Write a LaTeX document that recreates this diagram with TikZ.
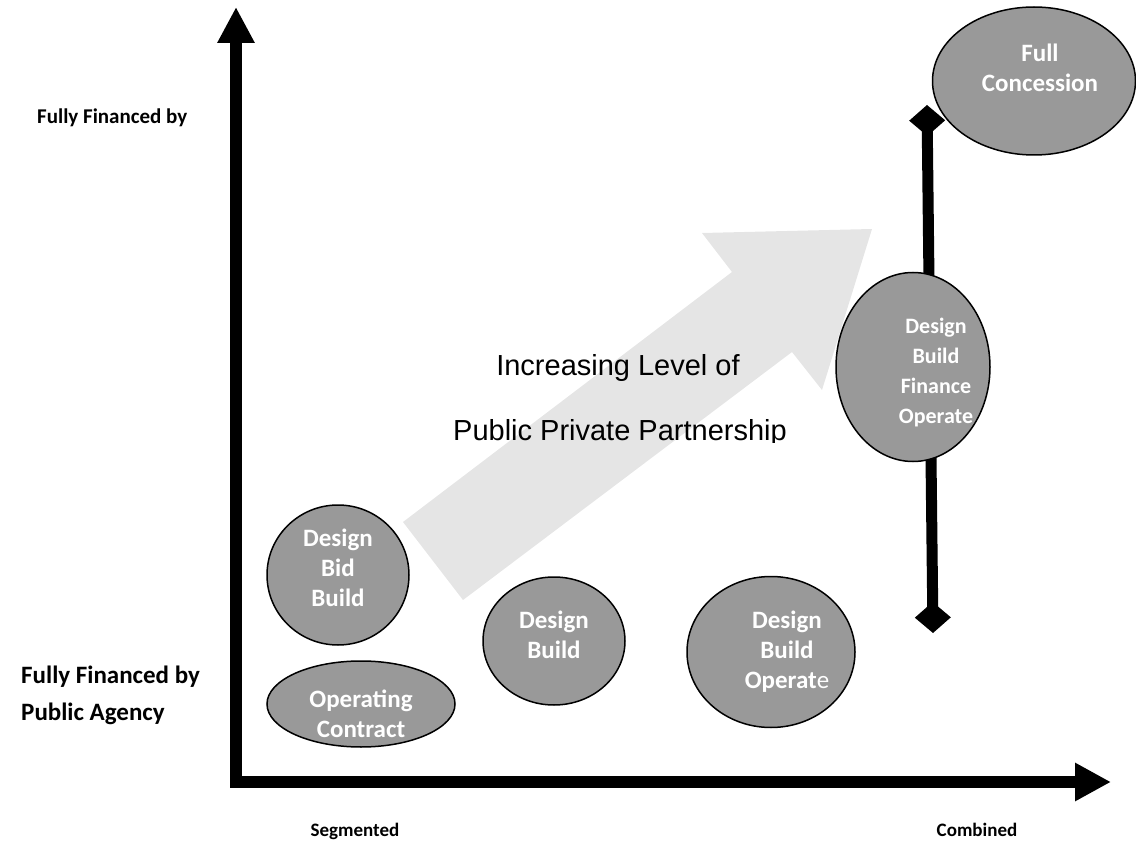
\documentclass[tikz,border=0pt]{standalone}
\usepackage{fontspec}
\setmainfont{Carlito}
\newfontfamily\arialfont{Liberation Sans}
\usetikzlibrary{arrows.meta,shapes.geometric}
\definecolor{blobgray}{HTML}{999999}
\definecolor{arrowgray}{HTML}{E5E5E5}
\begin{document}
\begin{tikzpicture}[x=1pt,y=-1pt,
  blob/.style={ellipse, draw=black, line width=1.5pt, fill=blobgray, inner sep=0pt},
  blobtext/.style={text=white, font=\bfseries\fontsize{25}{30}\selectfont, align=center, inner sep=0pt},
  axislabel/.style={font=\bfseries\fontsize{21}{37}\selectfont, inner sep=0pt},
  biglabel/.style={font=\bfseries\fontsize{25}{37}\selectfont, inner sep=0pt},
  footlabel/.style={font=\bfseries\fontsize{19}{23}\selectfont, inner sep=0pt},
  bigtext/.style={font=\arialfont\fontsize{29}{35}\selectfont, inner sep=0pt},
  axisline/.style={line width=12pt, line join=miter},
  stemline/.style={line width=11pt}]
\useasboundingbox (0,0) rectangle (1136,842);

% big light arrow
\fill[arrowgray] (403,522) -- (463,600) -- (792,352) -- (822,390) -- (872,229) -- (702,233) -- (732,272) -- cycle;

% text on arrow
\node[bigtext, anchor=base] (t1) at (618,376) {Increasing Level of};
\begin{scope}
\clip (380,400) rectangle (860,442);
\node[bigtext, anchor=base] (t2) at (620,441) {Public Private Partnership};
\end{scope}

% axes
\coordinate (ytip) at (236,7);
\coordinate (corner) at (236,782);
\coordinate (xtip) at (1111,782);
\draw[axisline, {Triangle[length=36pt,width=35pt]}-{Triangle[length=36pt,width=36pt]}] (ytip) -- (corner) -- (xtip);

% vertical stem with diamonds
\coordinate (dtop) at (927,105);
\coordinate (dbot) at (933,633);
\draw[stemline, {Diamond[length=31pt,width=36pt]}-{Diamond[length=31pt,width=36pt]}] (dtop) -- (dbot);

% ellipses
\node[blob, minimum width=203pt, minimum height=148pt] (fc) at (1034,81) {};
\node[blob, minimum width=154pt, minimum height=189pt] (dbfo) at (913,367) {};
\node[blob, minimum width=142pt, minimum height=140pt] (dbb) at (338,575) {};
\node[blob, minimum width=188pt, minimum height=86pt] (oc) at (361,704) {};
\node[blob, minimum width=142pt, minimum height=128pt] (db) at (554,641) {};
\node[blob, minimum width=168pt, minimum height=151pt] (dbo) at (771,652) {};

% ellipse texts
\node[blobtext] (fct) at (1040,68) {Full\\Concession};
\node[blobtext, font=\bfseries\fontsize{22}{30}\selectfont] (dbfot) at (936,373) {Design\\Build\\Finance\\Operate};
\node[blobtext] (dbbt) at (338,568) {Design\\Bid\\Build};
\node[blobtext] (oct) at (361,714) {Operating\\Contract};
\node[blobtext] (dbt) at (554,635) {Design\\Build};
\node[blobtext] (dbot) at (787,652) {Design\\Build\\Operat{\mdseries e}};

% axis labels
\node[axislabel, anchor=west] (lt) at (37,118) {Fully Financed by};
\node[biglabel, anchor=west, align=left] (lb) at (21,695) {Fully Financed by\\Public Agency};
\node[footlabel, anchor=base] (seg) at (355,836) {Segmented};
\node[footlabel, anchor=base] (comb) at (977,836) {Combined};
\end{tikzpicture}
\end{document}
